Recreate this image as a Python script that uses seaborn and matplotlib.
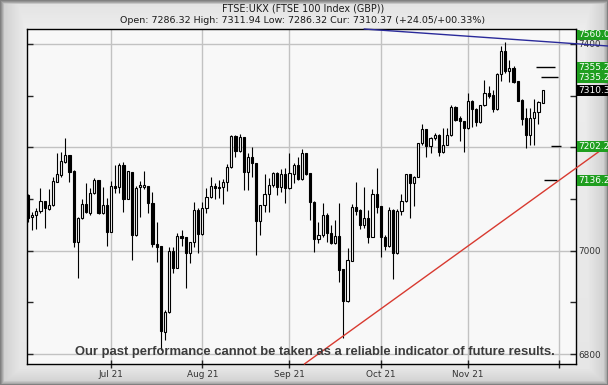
import numpy as np
import pandas as pd
import matplotlib
matplotlib.use("Agg")
import matplotlib.pyplot as plt
import seaborn as sns
from matplotlib.patches import Rectangle
from matplotlib.ticker import MultipleLocator

sns.set_style("white")
plt.rcParams['font.family'] = ['DejaVu Sans']

# ---------------- data ----------------
title = "FTSE:UKX (FTSE 100 Index (GBP))"
subtitle = "Open: 7286.32 High: 7311.94 Low: 7286.32 Cur: 7310.37 (+24.05/+00.33%)"
disclaimer = "Our past performance cannot be taken as a reliable indicator of future results."

start_date = "2021-06-03"
holidays = ["2021-08-30"]

opens = [7108, 7064.6, 7068.4, 7077.5, 7096, 7080.7, 7087.8, 7133.5, 7146.4, 7172.2,
         7185, 7154.2, 7017.5, 7062.6, 7089.7, 7073.6, 7111, 7136.1, 7072.3, 7087.8,
         7036.8, 7125.2, 7122.6, 7165, 7100.7, 7152.2, 7031, 7122.6, 7124, 7125,
         7091.6, 7013, 7009, 6843.4, 6880.8, 6999.5, 6967.2, 7028.5, 7026, 6996.3,
         7016.2, 7078.8, 7031.7, 7082, 7104.5, 7125.2, 7122.6, 7122.6, 7132.3, 7162.6,
         7221.9, 7193.5, 7219.3, 7152.9, 7180.6, 7169, 7058.1, 7087.8, 7109, 7127.1,
         7149.7, 7122.6, 7148.4, 7120.7, 7148.4, 7165.8, 7138, 7188.3, 7149.6, 7094.8,
         7022.6, 7030.4, 7069, 7034.9, 7015.5, 7028.4, 6964, 6903.3, 6980.7, 7083.9,
         7078.7, 7049.7, 7062.6, 7027.1, 7109.6, 7086.4, 7027.1, 7009.7, 7078.7, 6994.9,
         7077.4, 7096.1, 7147.7, 7130.3, 7143.2, 7207.6, 7234.7, 7202.5, 7217.3, 7223.8,
         7190.9, 7205.1, 7223.1, 7277.9, 7256.6, 7250.2, 7237.3, 7290.2, 7274.7, 7248.9,
         7281.1, 7305, 7301.8, 7274.7, 7341.7, 7385.6, 7348.2, 7353.3, 7327.5, 7292.1,
         7256.6, 7223.1, 7256.6, 7267.6, 7286.32]
highs = [7110, 7075.5, 7082, 7120.7, 7097, 7119.4, 7142, 7188.3, 7191.6, 7217.4,
         7186, 7156, 7066, 7100, 7130.3, 7120.7, 7140, 7137, 7122.6, 7102,
         7134.2, 7165, 7170.3, 7171.6, 7154, 7153, 7125, 7135.5, 7154, 7126,
         7113, 7056, 7010, 6886, 7007.8, 7007.8, 7033.6, 7040, 7027, 7017.5,
         7095, 7082, 7095, 7120.7, 7142, 7130.3, 7136.8, 7138.7, 7167, 7223,
         7223, 7225.7, 7220, 7188.3, 7200, 7170, 7089, 7148.4, 7140, 7152.9,
         7153, 7157.4, 7159.4, 7188.3, 7170.3, 7181.9, 7196, 7190, 7150, 7096,
         7056, 7092.9, 7072.3, 7049.7, 7059.4, 7092.9, 6965, 7004.6, 7090.3, 7132.2,
         7080.6, 7123.9, 7078.7, 7118.7, 7160.6, 7087, 7030.4, 7083.9, 7080, 7080,
         7109.6, 7149, 7149, 7145, 7209, 7245, 7236, 7220.5, 7228.3, 7226,
         7237.6, 7237.6, 7281.1, 7280, 7259.9, 7251, 7305, 7291, 7276, 7282.4,
         7330.8, 7317.9, 7311.4, 7343, 7395.2, 7403.6, 7369.5, 7356.6, 7328, 7293,
         7276, 7276, 7294, 7289, 7311.94]
lows = [7055, 7040, 7041.4, 7073.6, 7044.6, 7078.8, 7087, 7132.3, 7143.2, 7169,
        7133.5, 7007.8, 6947.9, 7060.7, 7073, 7069.1, 7109.7, 7071, 7071, 7009.8,
        7036, 7111, 7111, 7075.5, 7099.4, 6982, 7028.5, 7065.9, 7119, 7073.6,
        7008, 6977.5, 6808, 6827, 6879, 6956.3, 6966, 7010, 6928.5, 6975.6,
        7007.8, 6996.3, 7030, 7072.3, 7103, 7099.4, 7101.3, 7089.7, 7116.1, 7159.4,
        7181.9, 7191, 7117.4, 7117.4, 7142, 6991.7, 7030.4, 7075.5, 7075.5, 7122.6,
        7107.8, 7114.2, 7091.6, 7119, 7130.3, 7137, 7136, 7146, 7059.4, 6998.1,
        7014.2, 7027.1, 7017.5, 7014, 7014, 6940.1, 6831.8, 6901, 6980, 7069,
        7041.3, 7043.3, 7015.5, 7026, 7072.3, 6988.4, 7001.3, 7008, 6944.6, 6993,
        7069, 7095, 7062.6, 7087.1, 7142, 7204.4, 7180.6, 7189.6, 7214, 7183.1,
        7189, 7203.8, 7222, 7251.5, 7211.5, 7190.9, 7236, 7238.6, 7240.5, 7247,
        7279.2, 7295.3, 7268.2, 7273, 7328.8, 7343.7, 7326.3, 7324.3, 7289, 7243.7,
        7198.6, 7205.1, 7203.8, 7245, 7286.32]
closes = [7064, 7069, 7077.5, 7096, 7082, 7087.8, 7135.5, 7148.4, 7173.5, 7185.1,
          7152.9, 7017.5, 7064, 7089.7, 7074.2, 7111, 7136.8, 7072.3, 7087.8, 7036.8,
          7125.2, 7122, 7165.1, 7100.7, 7153.5, 7031, 7122, 7126.5, 7127, 7091.6,
          7012.3, 7007.8, 6844.7, 6882, 6999.5, 6967.2, 7028.5, 7025.2, 6996.3, 7016.2,
          7078.8, 7031.7, 7082, 7104.5, 7125.2, 7120.7, 7120.7, 7132.3, 7162.6, 7221.9,
          7193.5, 7220.6, 7152.9, 7180.6, 7169, 7058.1, 7087.8, 7109, 7127.1, 7149.7,
          7124, 7148.4, 7120.7, 7149.7, 7165.8, 7138, 7188.3, 7148.3, 7094.8, 7022.6,
          7030.4, 7069, 7033.6, 7015.5, 7028.4, 6962.7, 6903.3, 6982, 7083.9, 7077.4,
          7049.7, 7062.6, 7027.1, 7109.6, 7085.2, 7027.1, 7009.7, 7078.7, 6994.9, 7077.4,
          7096.1, 7147.7, 7130.3, 7143.2, 7207.6, 7234.7, 7202.5, 7217.3, 7223.8, 7191.5,
          7205.1, 7223.1, 7277.9, 7253.4, 7250.2, 7237.3, 7290.2, 7274.7, 7248.9, 7281.1,
          7305, 7299.8, 7274.7, 7341.7, 7385.6, 7348.2, 7353.3, 7326.3, 7290.2, 7255.3,
          7223.1, 7256.6, 7267.6, 7287.6, 7310.37]

month_starts = ["2021-07-01", "2021-08-02", "2021-09-01", "2021-10-01", "2021-11-01", "2021-12-01"]
month_labels = ["Jul 21", "Aug 21", "Sep 21", "Oct 21", "Nov 21", ""]
y_ticks = [6800, 7000, 7200, 7400]
y_tick_labels = ["6800", "7000", "", "7400"]   # 7200 is hidden under the 7202 box
y_minor_step = 100

level_values = [7560.0, 7355.2, 7335.2, 7202.2, 7136.2]
level_labels = ["7560.00", "7355.20", "7335.20", "7202.20", "7136.20"]
current_value = 7310.37
current_label = "7310.37"

# target markers: (level, start offset, end offset) in trading days after last candle
marker_levels = [7355.2, 7335.2, 7202.2, 7136.2]
marker_from = [-1.6, -0.4, 2.0, 0.3]
marker_to = [3.0, 3.7, 4.4, 3.5]

# trend lines (trading-day index, value)
blue_x = [81.0, 140.0]
blue_y = [7429.0, 7396.0]
red_x = [66.6, 137.6]
red_y = [6781.0, 7192.0]

# ---------------- build ----------------
cal = pd.bdate_range(start_date, "2021-12-31")
cal = cal[~cal.isin(pd.to_datetime(holidays))]
n = len(opens)
df = pd.DataFrame({"date": cal[:n], "open": opens, "high": highs, "low": lows, "close": closes})
df["idx"] = np.arange(n)
df["up"] = df["close"] >= df["open"]
month_idx = [int(cal.get_loc(pd.Timestamp(d))) for d in month_starts]

W, H = 608, 385
fig = plt.figure(figsize=(W / 100, H / 100), dpi=100)

# background frame with gradient
bg = fig.add_axes([0, 0, 1, 1], zorder=-10)
bg.axis("off")
xs = np.arange(W)
ys = np.arange(H)
hp = np.interp(xs, [0, 2, 4, 26, 578, 603, 606, 607], [0.50, 0.66, 0.82, 0.93, 0.96, 0.82, 0.66, 0.50])
vp = np.interp(ys, [0, 2, 4, 30, 368, 380, 383, 384], [0.50, 0.66, 0.89, 0.93, 0.90, 0.83, 0.66, 0.50])
img = np.minimum(hp[None, :], vp[:, None])
bg.imshow(img, cmap="gray", vmin=0, vmax=1, aspect="auto", extent=[0, 1, 0, 1], interpolation="bilinear")
bg.set_xlim(0, 1)
bg.set_ylim(0, 1)

L, R, T, B = 27, 576, 29, 364
ax = fig.add_axes([L / W, (H - B) / H, (R - L) / W, (B - T) / H])
ax.set_facecolor("#f8f8f8")
ax.set_xlim(-0.24, 132.05)
ax.set_ylim(6781, 7429)

# candles
ax.vlines(df["idx"], df["low"], df["high"], color="black", lw=0.8, zorder=3)
body_lo = np.minimum(df["open"], df["close"])
body_h = (df["close"] - df["open"]).abs().clip(lower=0.8)
ax.bar(df["idx"], body_h, bottom=body_lo, width=0.52,
       color=np.where(df["up"], "white", "black"), edgecolor="black", linewidth=0.8, zorder=4)

# trend lines (seaborn)
sns.lineplot(x=blue_x, y=blue_y, ax=ax, color="#2a2a9a", lw=1.0, clip_on=False, zorder=6)
sns.lineplot(x=red_x, y=red_y, ax=ax, color="#d83a30", lw=1.0, clip_on=False, zorder=6)

# markers
last = df["idx"].iloc[-1]
for lv, a, b in zip(marker_levels, marker_from, marker_to):
    ax.hlines(lv, last + a, last + b, color="black", lw=1.0, zorder=5)

# axes styling
for s in ax.spines.values():
    s.set_color("black")
    s.set_linewidth(1.0)
ax.set_xticks(month_idx)
ax.set_xticklabels(month_labels)
ax.set_yticks(y_ticks)
ax.set_yticklabels(y_tick_labels)
ax.yaxis.set_minor_locator(MultipleLocator(y_minor_step))
ax.grid(True, which="major", color="#c2c2c2", lw=1.0, zorder=0)
ax.set_axisbelow(True)
ax.tick_params(axis="y", which="both", left=True, right=True, direction="in", length=4,
               width=1.0, labelleft=False, labelright=True, pad=2, labelsize=6.4, labelcolor="#333333")
ax.tick_params(axis="x", which="both", bottom=True, top=False, direction="inout", length=6,
               width=1.0, pad=1.2, labelsize=6.4, labelcolor="#333333")
ax.set_xlabel("")
ax.set_ylabel("")

# titles
fig.text(0.499, 1 - 8.5 / H, title, ha="center", va="center", fontsize=6.9, color="#1a1a1a")
fig.text(0.497, 1 - 20.5 / H, subtitle, ha="center", va="center", fontsize=6.8, color="#1a1a1a")

# disclaimer
dt = fig.text(314.5 / W, 1 - 352 / H, disclaimer, ha="center", va="center", fontsize=9.5,
              fontweight="bold", color="#3c3c3c",
              family=["Liberation Sans Narrow", "Liberation Sans", "DejaVu Sans"], zorder=8)
fig.canvas.draw()
wpx = dt.get_window_extent().width
dt.set_fontsize(9.5 * 482 / wpx)

# level boxes on the right
def y_to_fig(v):
    return ax.transData.transform((0, v))[1]

box_h = 10.5
top_px = H - T
for val, lab in zip(level_values, level_labels):
    yc = y_to_fig(val)
    if yc + box_h / 2 > top_px:
        yc = top_px - box_h / 2 - 0.5
    fig.patches.append(Rectangle(((R + 1) / W, (yc - box_h / 2) / H), (W - R) / W, box_h / H,
                                 transform=fig.transFigure, facecolor="#1f9e1f", edgecolor="none", zorder=9))
    fig.text((R + 2.5) / W, yc / H, lab, ha="left", va="center", fontsize=6.5, color="white", zorder=10)
yc = y_to_fig(current_value)
fig.patches.append(Rectangle(((R + 1) / W, (yc - box_h / 2) / H), (W - R) / W, box_h / H,
                             transform=fig.transFigure, facecolor="black", edgecolor="none", zorder=9))
fig.text((R + 2.5) / W, yc / H, current_label, ha="left", va="center", fontsize=6.5, color="white", zorder=10)

fig.savefig("out.png", dpi=100)
